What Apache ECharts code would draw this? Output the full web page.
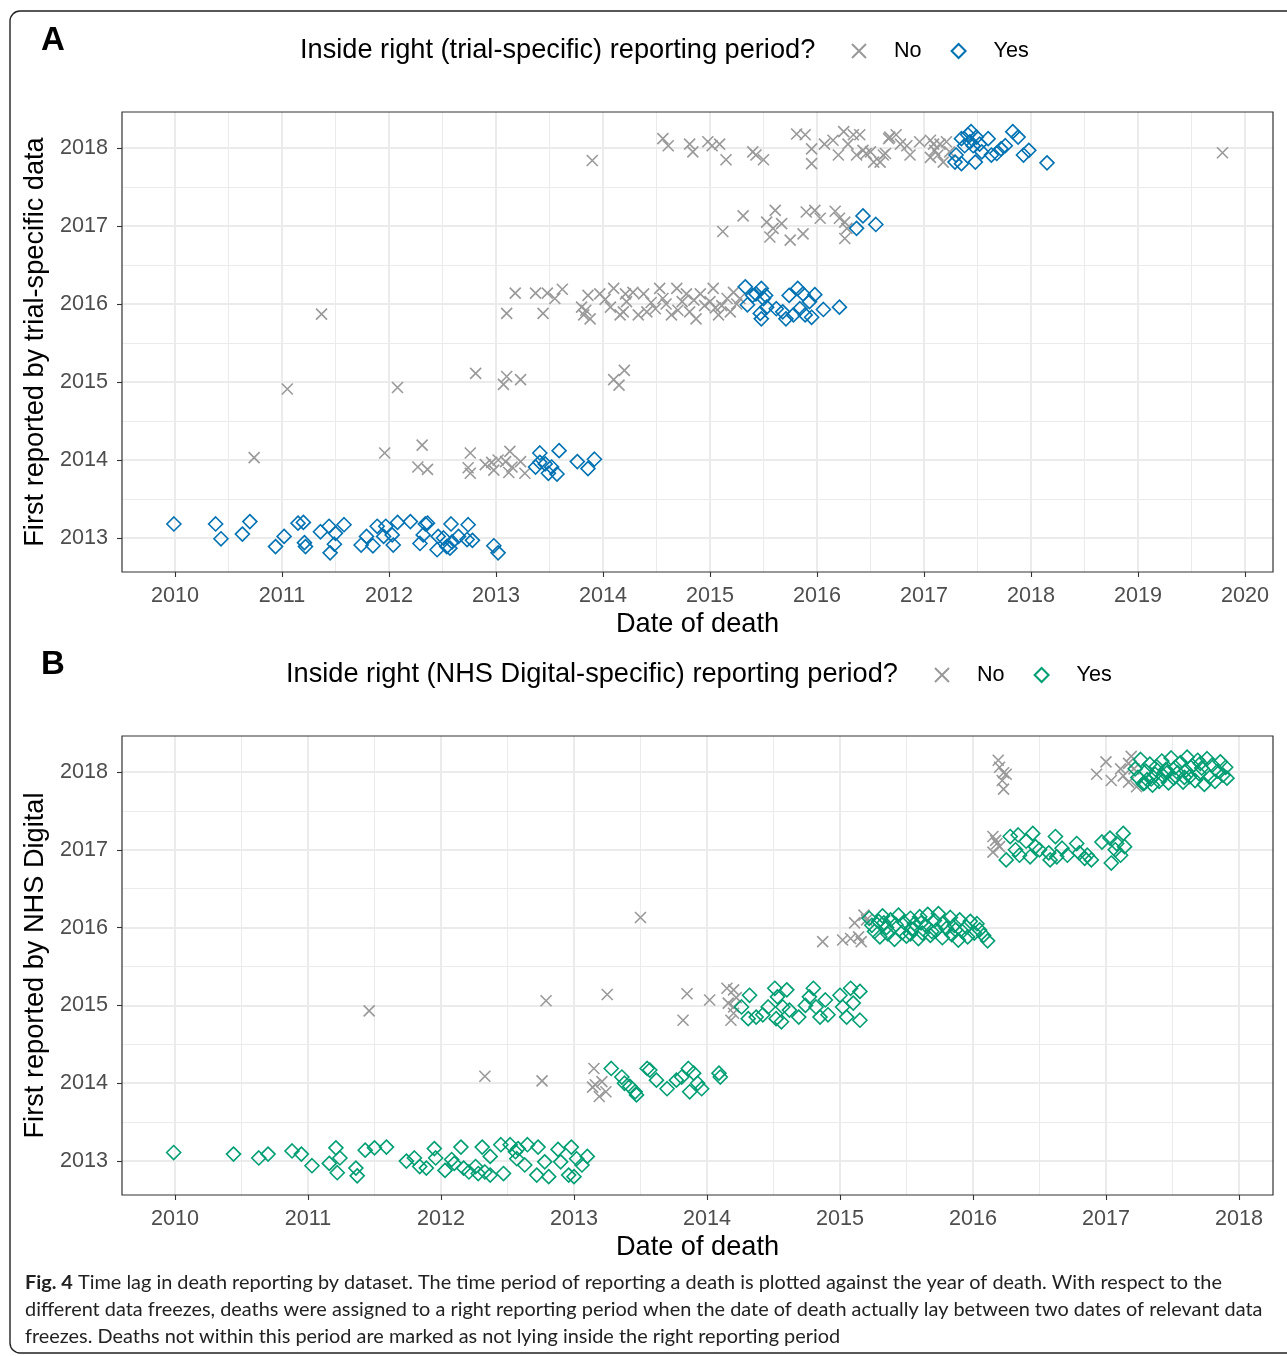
<!DOCTYPE html>
<html>
<head>
<meta charset="utf-8">
<script src="https://cdn.jsdelivr.net/npm/echarts@6/dist/echarts.min.js"></script>
<style>
  html, body { margin: 0; padding: 0; background: #fff; }
  #chart { width: 1287px; height: 1356px; }
</style>
</head>
<body>
<div id="chart"></div>
<script>
// 数据: [死亡日期(小数年), 首次报告年份(含抖动)]
// Panel A - trial-specific data
const aNo = [
    // 2014 行
    [2010.74, 2014.03], [2011.96, 2014.09], [2012.31, 2014.19], [2012.27, 2013.91], [2012.36, 2013.88],
    [2012.76, 2014.09], [2012.74, 2013.90], [2012.76, 2013.83], [2012.90, 2013.94], [2012.96, 2013.97],
    [2012.98, 2013.87], [2013.02, 2014.00], [2013.12, 2013.84], [2013.13, 2014.11], [2013.15, 2013.91],
    [2013.23, 2013.98], [2013.27, 2013.83], [2013.09, 2013.98],
    // 2015 行
    [2011.05, 2014.91], [2012.08, 2014.93], [2012.81, 2015.11], [2013.07, 2014.97], [2013.10, 2015.07],
    [2013.23, 2015.03], [2014.10, 2015.03], [2014.15, 2014.96], [2014.20, 2015.15],
    // 2016 行
    [2011.37, 2015.87], [2013.10, 2015.88], [2013.18, 2016.14], [2013.37, 2016.14], [2013.44, 2015.88],
    [2013.48, 2016.14], [2013.55, 2016.07], [2013.62, 2016.19], [2013.80, 2015.96], [2013.82, 2015.86],
    [2013.88, 2015.81], [2013.86, 2016.11], [2013.97, 2016.13], [2014.07, 2015.96], [2014.10, 2016.20],
    [2014.16, 2015.86], [2014.21, 2016.13], [2014.22, 2016.03], [2014.19, 2015.90], [2014.28, 2016.15],
    [2014.33, 2015.86], [2014.38, 2016.13], [2014.41, 2015.90], [2014.49, 2015.94], [2014.53, 2016.20],
    [2014.56, 2016.07], [2014.59, 2016.00], [2014.64, 2015.86], [2014.69, 2016.20], [2014.74, 2016.03],
    [2014.78, 2016.13], [2014.81, 2015.90], [2014.87, 2015.81], [2014.91, 2016.13], [2014.95, 2015.98],
    [2015.00, 2016.03], [2015.03, 2016.20], [2015.08, 2015.86], [2015.11, 2015.98], [2015.16, 2016.07],
    [2015.19, 2015.90], [2015.22, 2016.15], [2015.25, 2016.00], [2015.28, 2016.07], [2013.84, 2015.92],
    [2014.02, 2016.06], [2014.45, 2016.02], [2014.70, 2015.92], [2014.85, 2016.05], [2015.05, 2015.95],
    // 2017 行
    [2015.12, 2016.93], [2015.31, 2017.13], [2015.53, 2017.05], [2015.61, 2017.20], [2015.59, 2016.97],
    [2015.56, 2016.86], [2015.67, 2017.03], [2015.75, 2016.82], [2015.87, 2016.90], [2015.90, 2017.18],
    [2015.98, 2017.20], [2016.03, 2017.10], [2016.17, 2017.19], [2016.21, 2017.10], [2016.26, 2017.05],
    [2016.28, 2016.97], [2016.26, 2016.84],
    // 2018 行
    [2013.90, 2017.84], [2014.56, 2018.12], [2014.61, 2018.03], [2014.81, 2018.05], [2014.84, 2017.95],
    [2014.98, 2018.08], [2015.02, 2018.03], [2015.09, 2018.05], [2015.15, 2017.85], [2015.40, 2017.95],
    [2015.43, 2017.91], [2015.50, 2017.85], [2015.81, 2018.18], [2015.89, 2018.17], [2015.95, 2017.99],
    [2015.95, 2017.80], [2016.07, 2018.05], [2016.15, 2018.10], [2016.20, 2017.91], [2016.25, 2018.21],
    [2016.29, 2018.05], [2016.34, 2018.17], [2016.37, 2017.91], [2016.40, 2018.17], [2016.43, 2017.97],
    [2016.46, 2017.93], [2016.50, 2017.95], [2016.53, 2017.82], [2016.59, 2017.82], [2016.62, 2017.91],
    [2016.64, 2017.93], [2016.67, 2018.12], [2016.68, 2018.14], [2016.74, 2018.17], [2016.78, 2018.05],
    [2016.84, 2018.03], [2016.87, 2017.91], [2016.96, 2018.08], [2017.06, 2018.10], [2017.09, 2018.05],
    [2017.10, 2017.97], [2017.06, 2017.88], [2017.15, 2018.05], [2017.13, 2017.91], [2017.18, 2017.82],
    [2017.21, 2018.08], [2017.24, 2017.95], [2019.79, 2017.94]
];

const aYes = [
    // 2013 行
    [2009.99, 2013.18], [2010.38, 2013.18], [2010.43, 2012.99], [2010.63, 2013.05], [2010.70, 2013.21],
    [2010.94, 2012.89], [2011.02, 2013.02], [2011.15, 2013.19], [2011.20, 2013.20], [2011.21, 2012.94],
    [2011.22, 2012.89], [2011.36, 2013.08], [2011.44, 2013.15], [2011.50, 2013.06], [2011.49, 2012.92],
    [2011.45, 2012.81], [2011.58, 2013.17], [2011.74, 2012.91], [2011.79, 2013.02], [2011.85, 2012.90],
    [2011.89, 2013.15], [2011.97, 2013.15], [2011.95, 2013.02], [2012.03, 2013.04], [2012.04, 2012.91],
    [2012.08, 2013.20], [2012.20, 2013.21], [2012.29, 2012.93], [2012.34, 2013.18], [2012.36, 2013.19],
    [2012.32, 2013.04], [2012.45, 2012.85], [2012.46, 2013.02], [2012.51, 2013.00], [2012.54, 2012.89],
    [2012.57, 2012.87], [2012.58, 2013.18], [2012.59, 2012.95], [2012.65, 2013.02], [2012.73, 2012.98],
    [2012.74, 2013.17], [2012.78, 2012.97], [2012.98, 2012.90], [2013.02, 2012.81],
    // 2014 行
    [2013.41, 2014.09], [2013.37, 2013.91], [2013.41, 2013.97], [2013.46, 2013.95], [2013.49, 2013.83],
    [2013.52, 2013.91], [2013.57, 2013.82], [2013.59, 2014.12], [2013.76, 2013.98], [2013.86, 2013.89],
    [2013.92, 2014.01],
    // 2016 行
    [2015.33, 2016.22], [2015.35, 2015.99], [2015.40, 2016.11], [2015.43, 2016.13], [2015.48, 2016.20],
    [2015.50, 2016.07], [2015.52, 2016.11], [2015.47, 2015.88], [2015.48, 2015.81], [2015.53, 2015.96],
    [2015.62, 2015.94], [2015.68, 2015.90], [2015.71, 2015.81], [2015.74, 2016.11], [2015.78, 2015.86],
    [2015.82, 2016.20], [2015.84, 2015.94], [2015.87, 2016.13], [2015.89, 2015.86], [2015.93, 2016.03],
    [2015.95, 2015.83], [2015.98, 2016.12], [2016.06, 2015.93], [2016.21, 2015.96],
    // 2017 行
    [2016.37, 2016.97], [2016.43, 2017.13], [2016.55, 2017.02],
    // 2018 行
    [2017.29, 2017.82], [2017.30, 2017.91], [2017.35, 2018.12], [2017.35, 2017.80], [2017.38, 2018.03],
    [2017.41, 2018.17], [2017.43, 2018.08], [2017.44, 2018.21], [2017.46, 2018.03], [2017.48, 2017.82],
    [2017.49, 2018.14], [2017.52, 2018.05], [2017.54, 2017.95], [2017.60, 2018.12], [2017.63, 2017.91],
    [2017.68, 2017.93], [2017.72, 2017.99], [2017.76, 2018.03], [2017.83, 2018.21], [2017.88, 2018.14],
    [2017.93, 2017.91], [2017.98, 2017.97], [2018.15, 2017.81]
];

// Panel B - NHS Digital
const bNo = [
    [2011.46, 2014.93], [2012.33, 2014.09], [2012.76, 2014.03], [2012.79, 2015.06], [2013.25, 2015.14],
    [2013.15, 2014.19], [2013.16, 2013.98], [2013.14, 2013.95], [2013.21, 2014.02], [2013.24, 2013.89],
    [2013.19, 2013.83], [2013.50, 2016.13],
    [2013.85, 2015.15], [2013.82, 2014.81], [2014.02, 2015.07], [2014.15, 2015.22], [2014.20, 2015.20],
    [2014.16, 2015.03], [2014.20, 2014.98], [2014.18, 2014.81], [2014.22, 2015.10], [2014.20, 2014.90],
    [2014.87, 2015.82], [2015.02, 2015.84], [2015.08, 2015.86], [2015.11, 2016.06], [2015.14, 2015.88],
    [2015.16, 2015.82], [2015.18, 2016.16], [2015.20, 2016.10],
    [2016.15, 2017.17], [2016.18, 2017.08], [2016.15, 2016.97], [2016.20, 2017.04], [2016.17, 2017.12],
    [2016.19, 2018.15], [2016.20, 2018.06], [2016.23, 2017.99], [2016.25, 2017.97], [2016.22, 2017.89],
    [2016.23, 2017.78], [2016.93, 2017.97], [2017.00, 2018.13], [2017.04, 2017.89], [2017.11, 2018.04],
    [2017.13, 2017.95], [2017.17, 2018.11], [2017.17, 2017.87], [2017.21, 2018.04], [2017.23, 2017.81],
    [2017.19, 2018.20]
];

const bYes = [
    // 2013 行
    [2009.99, 2013.11], [2010.44, 2013.09], [2010.63, 2013.04], [2010.70, 2013.09], [2010.88, 2013.13],
    [2010.95, 2013.09], [2011.03, 2012.94], [2011.16, 2012.97], [2011.21, 2013.17], [2011.24, 2013.04],
    [2011.22, 2012.85], [2011.36, 2012.91], [2011.37, 2012.81], [2011.43, 2013.14], [2011.50, 2013.17],
    [2011.59, 2013.18], [2011.74, 2013.00], [2011.80, 2013.04], [2011.84, 2012.93], [2011.89, 2012.91],
    [2011.95, 2013.16], [2011.96, 2013.04], [2012.03, 2012.88], [2012.08, 2013.02], [2012.10, 2012.97],
    [2012.15, 2013.18], [2012.17, 2012.91], [2012.21, 2012.86], [2012.26, 2012.93], [2012.28, 2012.84],
    [2012.31, 2013.18], [2012.33, 2012.86], [2012.37, 2013.06], [2012.37, 2012.82], [2012.45, 2013.21],
    [2012.47, 2012.84], [2012.52, 2013.21], [2012.56, 2013.12], [2012.58, 2013.16], [2012.57, 2013.03],
    [2012.65, 2013.21], [2012.63, 2012.95], [2012.73, 2013.18], [2012.72, 2012.82], [2012.78, 2012.99],
    [2012.81, 2012.80], [2012.88, 2013.15], [2012.90, 2012.99], [2012.98, 2013.18], [2012.96, 2012.82],
    [2013.00, 2012.80], [2013.02, 2013.03], [2013.06, 2012.95], [2013.10, 2013.06],
    // 2014 行
    [2013.28, 2014.19], [2013.36, 2014.08], [2013.38, 2014.00], [2013.42, 2013.96], [2013.46, 2013.89],
    [2013.47, 2013.85], [2013.55, 2014.19], [2013.57, 2014.17], [2013.62, 2014.04], [2013.70, 2013.93],
    [2013.77, 2014.04], [2013.81, 2014.08], [2013.86, 2014.19], [2013.87, 2013.89], [2013.90, 2014.13],
    [2013.93, 2014.00], [2013.96, 2013.93], [2014.09, 2014.13], [2014.10, 2014.08],
    // 2015 行
    [2014.26, 2014.98], [2014.32, 2015.13], [2014.31, 2014.83], [2014.37, 2014.85], [2014.42, 2014.88],
    [2014.46, 2014.98], [2014.51, 2015.22], [2014.53, 2015.11], [2014.52, 2014.83], [2014.56, 2014.79],
    [2014.60, 2015.20], [2014.57, 2014.98], [2014.62, 2014.94], [2014.69, 2014.85], [2014.74, 2015.00],
    [2014.77, 2015.11], [2014.80, 2015.22], [2014.82, 2014.98], [2014.85, 2014.85], [2014.89, 2015.07],
    [2014.91, 2014.88], [2015.00, 2015.13], [2015.02, 2014.98], [2015.05, 2014.85], [2015.08, 2015.22],
    [2015.10, 2015.03], [2015.15, 2015.18], [2015.15, 2014.81],
    // 2016 行
    [2015.22, 2016.12], [2015.24, 2016.03], [2015.26, 2015.95], [2015.29, 2016.08], [2015.30, 2015.88],
    [2015.32, 2016.15], [2015.35, 2016.00], [2015.36, 2015.92], [2015.38, 2016.10], [2015.41, 2015.85],
    [2015.42, 2016.04], [2015.44, 2016.16], [2015.47, 2015.94], [2015.48, 2016.07], [2015.50, 2015.89],
    [2015.53, 2016.12], [2015.54, 2015.98], [2015.56, 2016.05], [2015.59, 2015.86], [2015.60, 2016.14],
    [2015.62, 2015.93], [2015.65, 2016.02], [2015.66, 2016.17], [2015.68, 2015.90], [2015.71, 2016.09],
    [2015.72, 2015.96], [2015.74, 2016.18], [2015.77, 2015.87], [2015.78, 2016.06], [2015.80, 2015.99],
    [2015.83, 2016.13], [2015.84, 2015.91], [2015.86, 2016.03], [2015.89, 2015.84], [2015.90, 2016.10],
    [2015.92, 2015.95], [2015.95, 2016.01], [2015.96, 2015.88], [2015.98, 2016.08], [2016.01, 2015.93],
    [2016.03, 2016.05], [2016.05, 2015.97], [2016.08, 2015.90], [2016.11, 2015.83], [2015.53, 2015.92],
    [2015.61, 2016.06], [2015.69, 2015.95], [2015.33, 2016.06], [2015.87, 2015.97],
    // 2017 行
    [2016.25, 2016.87], [2016.28, 2017.17], [2016.32, 2017.00], [2016.34, 2017.19], [2016.35, 2016.93],
    [2016.40, 2017.11], [2016.43, 2016.91], [2016.45, 2017.21], [2016.47, 2017.04], [2016.50, 2017.00],
    [2016.57, 2016.96], [2016.58, 2016.87], [2016.62, 2017.17], [2016.63, 2016.91], [2016.67, 2017.02],
    [2016.71, 2016.93], [2016.78, 2017.08], [2016.80, 2016.96], [2016.84, 2016.89], [2016.86, 2016.93],
    [2016.89, 2016.87], [2016.97, 2017.10], [2017.03, 2017.15], [2017.04, 2016.83], [2017.07, 2017.00],
    [2017.08, 2017.08], [2017.11, 2016.93], [2017.13, 2017.21], [2017.14, 2017.04],
    // 2018 行
    [2017.22, 2018.04], [2017.24, 2017.93], [2017.26, 2018.16], [2017.28, 2017.85], [2017.30, 2018.01],
    [2017.31, 2017.90], [2017.33, 2018.10], [2017.35, 2017.83], [2017.37, 2017.97], [2017.38, 2018.07],
    [2017.40, 2017.88], [2017.42, 2018.14], [2017.43, 2017.95], [2017.45, 2018.03], [2017.47, 2017.86],
    [2017.49, 2018.18], [2017.51, 2017.92], [2017.52, 2018.06], [2017.54, 2017.99], [2017.56, 2018.12],
    [2017.58, 2017.87], [2017.60, 2018.02], [2017.61, 2018.19], [2017.63, 2017.94], [2017.65, 2018.08],
    [2017.67, 2017.89], [2017.69, 2018.15], [2017.70, 2017.98], [2017.72, 2018.05], [2017.74, 2017.84],
    [2017.76, 2018.17], [2017.78, 2017.93], [2017.80, 2018.09], [2017.82, 2017.88], [2017.84, 2018.01],
    [2017.86, 2018.13], [2017.88, 2017.96], [2017.90, 2018.06], [2017.91, 2017.92], [2017.34, 2017.91],
    [2017.46, 2017.99], [2017.29, 2017.86], [2017.59, 2017.93], [2017.71, 2018.11]
];

// 刻度
const aXTicks = [2010, 2011, 2012, 2013, 2014, 2015, 2016, 2017, 2018, 2019, 2020];
const aXMinor = [2010.5, 2011.5, 2012.5, 2013.5, 2014.5, 2015.5, 2016.5, 2017.5, 2018.5, 2019.5];
const bXTicks = [2010, 2011, 2012, 2013, 2014, 2015, 2016, 2017, 2018];
const bXMinor = [2010.5, 2011.5, 2012.5, 2013.5, 2014.5, 2015.5, 2016.5, 2017.5];
const yTicks = [2013, 2014, 2015, 2016, 2017, 2018];
const yMinor = [2013.5, 2014.5, 2015.5, 2016.5, 2017.5];

const FONT = '"Liberation Sans", Arial, sans-serif';
const GREY = '#999999';
const BLUE = '#0072B2';
const GREEN = '#009E73';
const CROSS = 'path://M0,0L10,10M10,0L0,10';
const DIAMOND = 'path://M5,0L10,5L5,10L0,5Z';
const TITLE_SIZE = 27.2;

function xMajor(grid, min, max, ticks, name) {
    return {
        type: 'value', gridIndex: grid, min: min, max: max, position: 'bottom',
        name: name, nameLocation: 'middle', nameGap: 39,
        nameTextStyle: { fontSize: TITLE_SIZE, color: '#000', fontFamily: FONT },
        axisLine: { show: false },
        axisTick: { show: true, length: 5, customValues: ticks, lineStyle: { color: '#333', width: 1.1 } },
        axisLabel: { customValues: ticks, formatter: v => String(v), fontSize: 21.6, color: '#4d4d4d', margin: 13, fontFamily: FONT },
        splitLine: { show: true, lineStyle: { color: '#ebebeb', width: 2 } }
    };
}

function xMinor(grid, min, max, ticks) {
    return {
        type: 'value', gridIndex: grid, min: min, max: max, position: 'top',
        axisLine: { show: false },
        axisTick: { show: false, customValues: ticks },
        axisLabel: { show: false, customValues: ticks },
        splitLine: { show: true, lineStyle: { color: '#ebebeb', width: 1 } }
    };
}

function yMajor(grid, name) {
    return {
        type: 'value', gridIndex: grid, min: 2012.564, max: 2018.462, position: 'left',
        name: name, nameLocation: 'middle', nameGap: 67,
        nameTextStyle: { fontSize: TITLE_SIZE, color: '#000', fontFamily: FONT },
        axisLine: { show: false },
        axisTick: { show: true, length: 5, customValues: yTicks, lineStyle: { color: '#333', width: 1.1 } },
        axisLabel: { customValues: yTicks, formatter: v => String(v), fontSize: 21.6, color: '#4d4d4d', margin: 14, fontFamily: FONT },
        splitLine: { show: true, lineStyle: { color: '#ebebeb', width: 2 } }
    };
}

function yMinorAxis(grid) {
    return {
        type: 'value', gridIndex: grid, min: 2012.564, max: 2018.462, position: 'right',
        axisLine: { show: false },
        axisTick: { show: false, customValues: yMinor },
        axisLabel: { show: false, customValues: yMinor },
        splitLine: { show: true, lineStyle: { color: '#ebebeb', width: 1 } }
    };
}

function scatter(name, axisIdx, data, symbol, size, color) {
    return {
        name: name, type: 'scatter', xAxisIndex: axisIdx, yAxisIndex: axisIdx,
        data: data, symbol: symbol, symbolSize: size, silent: true,
        itemStyle: { color: 'rgba(0,0,0,0)', borderColor: color, borderWidth: 1.6, opacity: 1 },
        z: 3
    };
}

// 图例: 图标 14px, 文字左侧留白模拟 ggplot 的 key 宽度
function legendBlock(names, left, centerY) {
    return {
        data: names, left: left, top: centerY - 10, padding: 0, itemGap: 29,
        itemWidth: 14, itemHeight: 14, selectedMode: false,
        formatter: n => n.slice(2),
        textStyle: { fontSize: 21.6, color: '#000', fontFamily: FONT, padding: [0, 0, 0, 23] }
    };
}

function legendTitle(x, y, text) {
    return {
        type: 'text', left: x, top: y - 13,
        style: { text: text, fontSize: TITLE_SIZE, fill: '#000', fontFamily: FONT }
    };
}

const chart = echarts.init(document.getElementById('chart'), null, { renderer: 'canvas' });

chart.setOption({
    backgroundColor: '#fff',
    animation: false,
    grid: [
        { left: 122, top: 112, width: 1151, height: 460, show: true, borderColor: '#333', borderWidth: 1.2, backgroundColor: 'transparent', z: 1 },
        { left: 122, top: 736, width: 1151, height: 459, show: true, borderColor: '#333', borderWidth: 1.2, backgroundColor: 'transparent', z: 1 }
    ],
    xAxis: [
        xMajor(0, 2009.505, 2020.262, aXTicks, 'Date of death'),
        xMinor(0, 2009.505, 2020.262, aXMinor),
        xMajor(1, 2009.6015, 2018.256, bXTicks, 'Date of death'),
        xMinor(1, 2009.6015, 2018.256, bXMinor)
    ],
    yAxis: [
        yMajor(0, 'First reported by trial-specific data'),
        yMinorAxis(0),
        yMajor(1, 'First reported by NHS Digital'),
        yMinorAxis(1)
    ],
    legend: [
        legendBlock(['A-No', 'A-Yes'], 851, 50),
        legendBlock(['B-No', 'B-Yes'], 934, 674)
    ],
    series: [
        scatter('A-No', 0, aNo, CROSS, 11, GREY),
        scatter('A-Yes', 0, aYes, DIAMOND, 14, BLUE),
        scatter('B-No', 2, bNo, CROSS, 11, GREY),
        scatter('B-Yes', 2, bYes, DIAMOND, 14, GREEN)
    ],
    graphic: [
        // 外框
        {
            type: 'rect', shape: { x: 10, y: 11, width: 1320, height: 1342, r: 10 },
            style: { fill: 'none', stroke: '#222', lineWidth: 1.4 }, silent: true
        },
        { type: 'text', left: 41, top: 24, style: { text: 'A', fontSize: 33, fontWeight: 'bold', fill: '#000', fontFamily: FONT } },
        { type: 'text', left: 41, top: 648, style: { text: 'B', fontSize: 33, fontWeight: 'bold', fill: '#000', fontFamily: FONT } },
        legendTitle(300, 50, 'Inside right (trial-specific) reporting period?'),
        legendTitle(286, 674, 'Inside right (NHS Digital-specific) reporting period?'),
        {
            type: 'text', left: 25, top: 1269,
            style: {
                text: '{b|Fig. 4} Time lag in death reporting by dataset. The time period of reporting a death is plotted against the year of death. With respect to the\n' +
                      'different data freezes, deaths were assigned to a right reporting period when the date of death actually lay between two dates of relevant data\n' +
                      'freezes. Deaths not within this period are marked as not lying inside the right reporting period',
                rich: { b: { fontWeight: 'bold', fontSize: 19.9, fontFamily: 'Lato', fill: '#222', lineHeight: 27 } },
                fontSize: 19.9, lineHeight: 27, fill: '#222', fontFamily: 'Lato'
            }
        }
    ]
});
</script>
</body>
</html>
